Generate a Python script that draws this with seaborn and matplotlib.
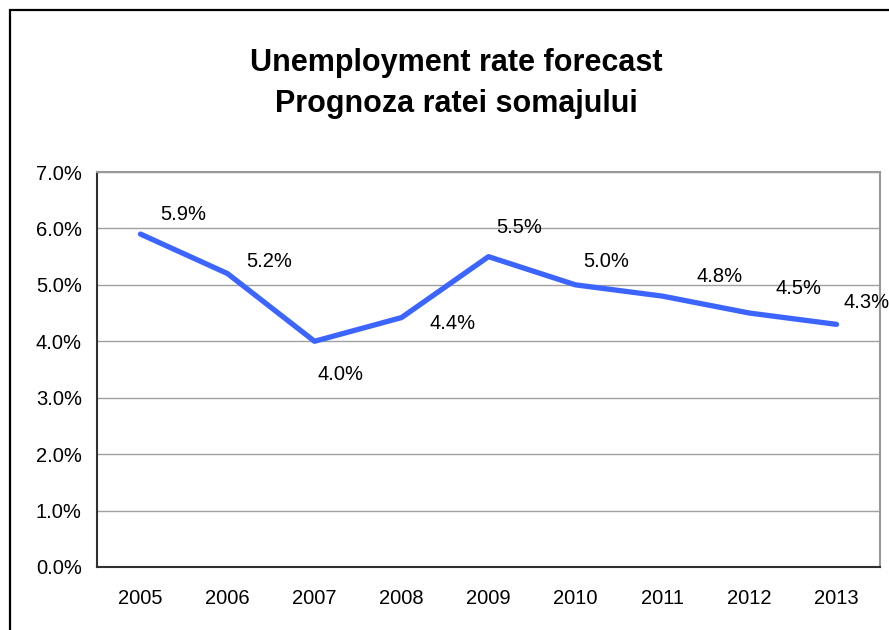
import matplotlib
matplotlib.use("Agg")
import matplotlib.pyplot as plt
import seaborn as sns
import pandas as pd
from matplotlib.patches import Rectangle
from matplotlib.ticker import FuncFormatter, FixedLocator

years = ["2005", "2006", "2007", "2008", "2009", "2010", "2011", "2012", "2013"]
rates = [5.9, 5.2, 4.0, 4.42, 5.5, 5.0, 4.8, 4.5, 4.3]
labels = ["5.9%", "5.2%", "4.0%", "4.4%", "5.5%", "5.0%", "4.8%", "4.5%", "4.3%"]
title_lines = ["Unemployment rate forecast", "Prognoza ratei somajului"]

# label offsets (points) relative to each point
label_offsets = [(31, 14), (30, 9), (19, -24), (37, -4), (22, 21), (22, 17), (41, 14), (35, 18), (22, 16)]

sns.set_style("white")
plt.rcParams["font.family"] = ["Liberation Sans", "DejaVu Sans"]
plt.rcParams["text.color"] = "black"
plt.rcParams["xtick.color"] = "black"
plt.rcParams["ytick.color"] = "black"

fig = plt.figure(figsize=(8.89, 6.3), dpi=100)
ax = fig.add_axes([97 / 889, 63 / 630, (880 - 97) / 889, (567 - 172) / 630])

df = pd.DataFrame({"year": years, "rate": rates})
sns.lineplot(data=df, x="year", y="rate", ax=ax, color="#3c64ff", linewidth=3.8,
             sort=False, solid_capstyle="round", solid_joinstyle="round")

fs = 14.5
for i, (v, lab) in enumerate(zip(rates, labels)):
    dx, dy = label_offsets[i]
    ax.annotate(lab, (i, v), xytext=(dx, dy), textcoords="offset points",
                ha="center", va="center", fontsize=fs, color="black",
                annotation_clip=False)

ax.set_xlim(-0.5, len(years) - 0.5)
ax.set_ylim(0, 7)
ax.set_yticks([0, 1, 2, 3, 4, 5, 6, 7])
ax.yaxis.set_major_formatter(FuncFormatter(lambda v, p: f"{v:.1f}%"))
ax.set_xticks(range(len(years)))
ax.set_xticklabels(years)
ax.xaxis.set_minor_locator(FixedLocator([i - 0.5 for i in range(len(years) + 1)]))
ax.tick_params(axis="x", which="major", length=0, pad=16, labelsize=fs, labelcolor="black")
ax.tick_params(axis="x", which="minor", length=5, width=1, color="#303030", direction="out")
ax.tick_params(axis="y", which="major", length=5, width=1, color="#303030", direction="out",
               pad=6, labelsize=fs, labelcolor="black")
ax.set_xlabel("")
ax.set_ylabel("")

ax.grid(axis="y", color="#a0a0a0", linewidth=1)
ax.set_axisbelow(True)
for s in ["left", "bottom"]:
    ax.spines[s].set_color("#303030")
    ax.spines[s].set_linewidth(1.5)
for s in ["top", "right"]:
    ax.spines[s].set_color("#999999")
    ax.spines[s].set_linewidth(1.5)
    ax.spines[s].set_visible(True)

fig.text(456 / 889, 1 - 63 / 630, title_lines[0], ha="center", va="center",
         fontsize=22, fontweight="bold", color="black")
fig.text(456 / 889, 1 - 104 / 630, title_lines[1], ha="center", va="center",
         fontsize=22, fontweight="bold", color="black")

fig.patches.append(Rectangle((9.5 / 889, -0.1), 1.2, 1.1 - 10.5 / 630,
                             transform=fig.transFigure, fill=False,
                             edgecolor="black", linewidth=1.6, zorder=10))

fig.savefig("out.png", dpi=100)
